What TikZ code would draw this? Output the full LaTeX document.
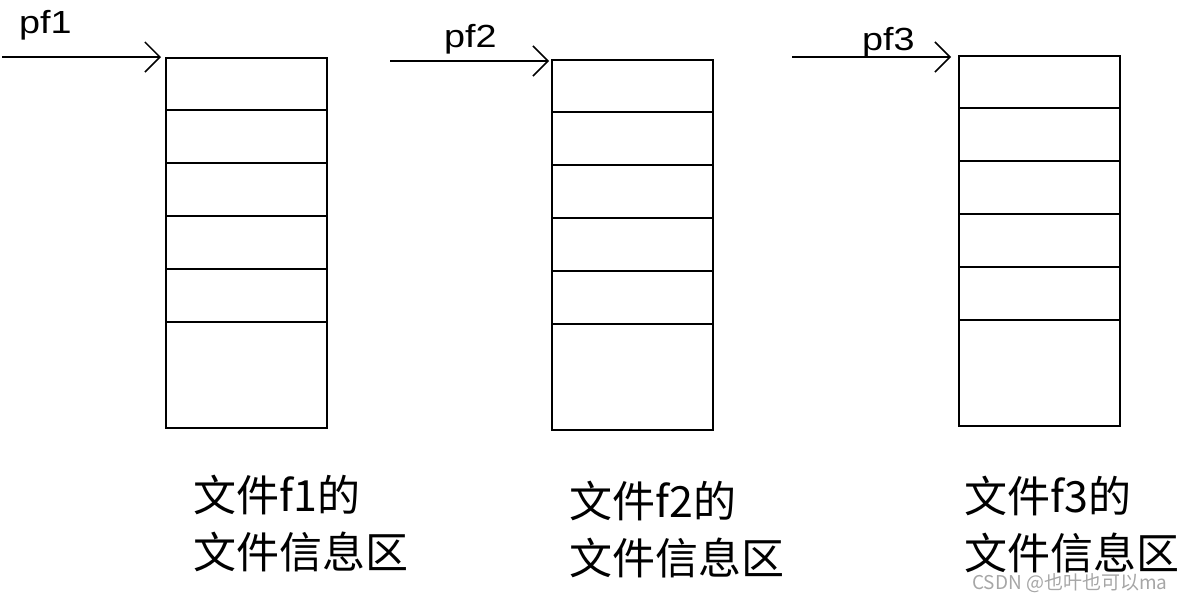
\documentclass[tikz,border=0pt]{standalone}
\usepackage{fontspec}
\setmainfont{Liberation Sans}
\newfontfamily\lblfont[FakeStretch=1.18]{Liberation Sans}
\newfontfamily\cjk{Noto Sans CJK SC}
\usetikzlibrary{arrows.meta}
\begin{document}
\begin{tikzpicture}[x=1pt,y=-1pt,
  boxst/.style={draw, line width=2pt, minimum width=161pt, minimum height=370pt, inner sep=0pt, anchor=north west},
  ptr/.style={line width=1.8pt, -{Straight Barb[length=15pt,width=30pt,line width=1.5pt]}},
  lbl/.style={font=\lblfont\fontsize{32}{32}\selectfont, inner sep=0pt, anchor=base west},
  captxt/.style={font=\cjk\fontsize{43}{57}\selectfont, inner sep=0pt, anchor=north west, align=left},
  sepline/.style={line width=2pt}]
\useasboundingbox (0,0) rectangle (1184,603);
% boxes
\node[boxst] (b1) at (165,57) {};
\node[boxst] (b2) at (551,59) {};
\node[boxst] (b3) at (958,55) {};
\foreach \b in {b1,b2,b3}{
  \foreach \k in {1,...,5}{
    \draw[sepline] ([yshift=-53*\k]\b.north west) -- ([yshift=-53*\k]\b.north east);
  }
}
% pointers
\coordinate (s1) at (2,57);
\coordinate (s2) at (390,61);
\coordinate (s3) at (792,57);
\coordinate (e1) at (161,57);
\coordinate (e2) at (549,61);
\coordinate (e3) at (951,57);
\draw[ptr] (s1) -- (e1);
\draw[ptr] (s2) -- (e2);
\draw[ptr] (s3) -- (e3);
\node[lbl] (p1) at (19,33) {pf1};
\node[lbl] (p2) at (444,47) {pf2};
\node[lbl] (p3) at (862,50) {pf3};
% captions
\node[captxt] (c1) at (193,475) {文件f1的\\文件信息区};
\node[captxt] (c2) at (569,481) {文件f2的\\文件信息区};
\node[captxt] (c3) at (964,476) {文件f3的\\文件信息区};
% watermark
\node[font=\cjk\fontsize{19}{19}\selectfont, text=gray!70, inner sep=0pt, anchor=west] (wm) at (972,583) {CSDN @也叶也可以ma};
\end{tikzpicture}
\end{document}
